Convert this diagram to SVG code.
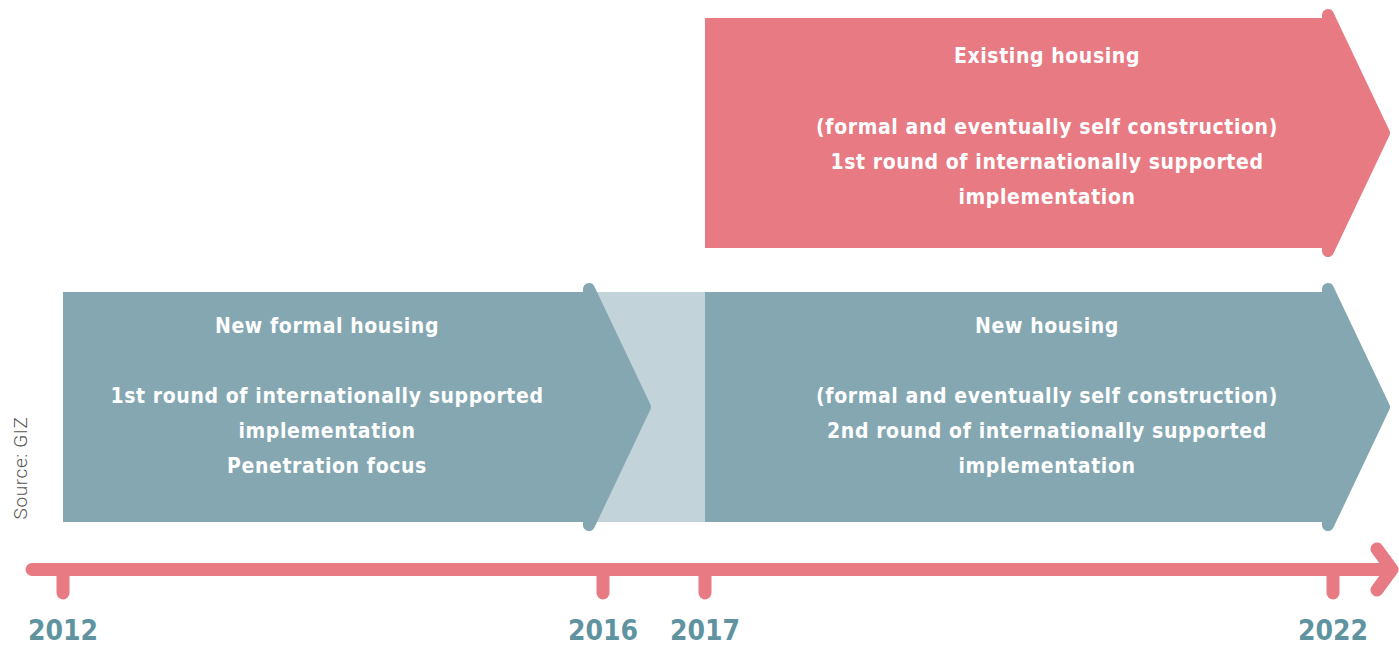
<svg xmlns="http://www.w3.org/2000/svg" width="1399" height="645" viewBox="0 0 1399 645">
<style>
.teal{fill:#84a7b2}
.tealS{stroke:#84a7b2;stroke-width:12;stroke-linecap:round;stroke-linejoin:round;fill:#84a7b2}
.pink{fill:#e87a83}
.pinkS{stroke:#e87a83;stroke-width:12;stroke-linecap:round;stroke-linejoin:round;fill:#e87a83}
.lbl{font-family:"DejaVu Sans Condensed","DejaVu Sans",sans-serif;font-stretch:condensed;font-weight:bold;font-size:21px;fill:#ffffff;text-anchor:middle;letter-spacing:0.6px}
.yr{font-family:"DejaVu Sans Condensed","DejaVu Sans",sans-serif;font-stretch:condensed;font-weight:bold;font-size:28px;fill:#5e939f;text-anchor:middle;letter-spacing:0px}
.axis{stroke:#e87a83;stroke-width:13;stroke-linecap:round;stroke-linejoin:round;fill:none}
</style>
<g id="gap">
<rect x="589" y="292" width="116" height="230" fill="#c3d3da"/>
</g>
<g id="new-formal-housing">
<rect class="teal" x="63" y="292" width="527" height="230"/>
<polygon class="tealS" points="589,289 645,407 589,525"/>
<rect class="teal" x="560" y="292" width="30" height="230"/>
<text class="lbl" x="327" y="333">New formal housing</text>
<text class="lbl" x="327" y="403">1st round of internationally supported</text>
<text class="lbl" x="327" y="438">implementation</text>
<text class="lbl" x="327" y="473">Penetration focus</text>
</g>
<g id="new-housing">
<rect class="teal" x="705" y="292" width="624" height="230"/>
<polygon class="tealS" points="1328,289 1384,407 1328,525"/>
<text class="lbl" x="1047" y="333">New housing</text>
<text class="lbl" x="1047" y="403">(formal and eventually self construction)</text>
<text class="lbl" x="1047" y="438">2nd round of internationally supported</text>
<text class="lbl" x="1047" y="473">implementation</text>
</g>
<g id="existing-housing">
<rect class="pink" x="705" y="18" width="624" height="230"/>
<polygon class="pinkS" points="1328,15 1384,133 1328,251"/>
<text class="lbl" x="1047" y="63">Existing housing</text>
<text class="lbl" x="1047" y="134">(formal and eventually self construction)</text>
<text class="lbl" x="1047" y="169">1st round of internationally supported</text>
<text class="lbl" x="1047" y="204">implementation</text>
</g>
<g id="timeline">
<line class="axis" x1="32" y1="569.5" x2="1384" y2="569.5"/>
<polyline class="axis" points="1377,549 1392,569.5 1377,590"/>
<line class="axis" x1="63" y1="569.5" x2="63" y2="593"/>
<line class="axis" x1="603" y1="569.5" x2="603" y2="593"/>
<line class="axis" x1="705" y1="569.5" x2="705" y2="593"/>
<line class="axis" x1="1333" y1="569.5" x2="1333" y2="593"/>
</g>
<g id="years">
<text class="yr" x="63" y="640">2012</text>
<text class="yr" x="603" y="640">2016</text>
<text class="yr" x="705" y="640">2017</text>
<text class="yr" x="1333" y="640">2022</text>
</g>
<g id="source">
<text x="0" y="0" transform="translate(27,468) rotate(-90)" font-family="Roboto,'Liberation Sans',sans-serif" font-weight="300" font-size="19" fill="#555555" text-anchor="middle" letter-spacing="0.6">Source: GIZ</text>
</g>
</svg>
